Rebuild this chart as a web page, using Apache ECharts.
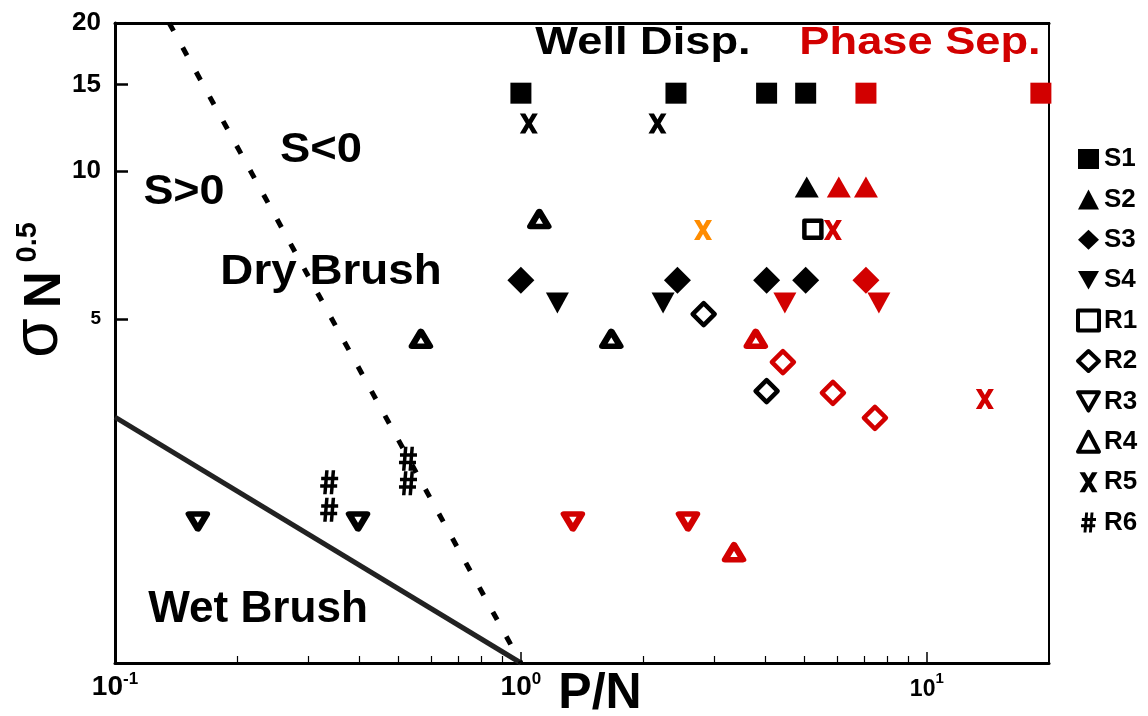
<!DOCTYPE html>
<html>
<head>
<meta charset="utf-8">
<title>Brush regimes: σN^0.5 vs P/N</title>
<script src="https://cdn.jsdelivr.net/npm/echarts@6/dist/echarts.min.js"></script>
<style>
  html, body { margin: 0; padding: 0; background: #ffffff; }
  #chart { width: 1148px; height: 716px; }
</style>
</head>
<body>
<div id="chart"></div>
<script>
// Grafting density (σN^0.5) against matrix/brush length ratio (P/N), log-log.
const FONT = "'Liberation Sans', Arial, Helvetica, sans-serif";
const BLACK = '#000000';
const RED = '#d20000';
const ORANGE = '#ff8c00';

// Well-dispersed samples: [P/N, σN^0.5]
const s1Dispersed = [[1.0, 14.4], [2.41, 14.4], [4.03, 14.4], [5.03, 14.4]];
const s2Dispersed = [[5.06, 9.28]];
const s3Dispersed = [[1.0, 6.0], [2.43, 6.0], [4.03, 6.0], [5.03, 6.0]];
const s4Dispersed = [[1.23, 5.39], [2.24, 5.39]];
const r1Dispersed = [[5.24, 7.62]];
const r2Dispersed = [[2.82, 5.12], [4.03, 3.57]];
const r3Dispersed = [[0.16, 1.94], [0.397, 1.94]];
const r4Dispersed = [[1.11, 7.99], [1.67, 4.56], [0.567, 4.56]];
const r5Dispersed = [[1.046, 12.5], [2.17, 12.5]];
const r6Dispersed = [[0.337, 2.33], [0.337, 2.05], [0.527, 2.60], [0.527, 2.32]];

// Phase-separated samples
const s1Separated = [[7.08, 14.4], [19.1, 14.4]];
const s2Separated = [[6.07, 9.28], [7.08, 9.28]];
const s3Separated = [[7.08, 6.0]];
const s4Separated = [[4.47, 5.39], [7.62, 5.39]];
const r2Separated = [[4.42, 4.09], [5.87, 3.54], [7.45, 3.15]];
const r3Separated = [[1.343, 1.94], [2.58, 1.94]];
const r4Separated = [[3.79, 4.56], [3.35, 1.68]];
const r5Separated = [[5.87, 7.59], [13.9, 3.44]];

// Borderline sample
const r5Intermediate = [[2.81, 7.59]];

// Regime boundaries (straight lines in log-log space)
const wetDryBoundary = [[0.1, 3.16], [1, 1]];
const entropyBoundary = [[0.136, 20], [1, 1]];

// Axis ticks
const xMinorTicks = [0.2, 0.3, 0.4, 0.5, 0.6, 0.7, 0.8, 0.9, 2, 3, 4, 5, 6, 7, 8, 9];
const yTicks = [5, 10, 15, 20];
const legendNames = ['S1', 'S2', 'S3', 'S4', 'R1', 'R2', 'R3', 'R4', 'R5', 'R6'];

// Marker shapes
const DOWN_TRI = 'path://M0,0L24,0L12,21Z';
const X_MARK = 'path://M0,0L5.5,0L9,6L12.5,0L18,0L12,10L18,20L12.5,20L9,14L5.5,20L0,20L6,10Z';
const HASH_MARK = 'path://M5,0L8.5,0L6.5,24L3,24Z M11.5,0L15,0L13,24L9.5,24Z M1,6.5L18,6.5L18,10L1,10Z M0,14L17,14L17,17.5L0,17.5Z';

const MARKERS = {
  S1: { symbol: 'rect', size: [21, 21] },
  S2: { symbol: 'triangle', size: [24, 21] },
  S3: { symbol: 'diamond', size: [27, 27] },
  S4: { symbol: DOWN_TRI, size: [23, 21] },
  R1: { symbol: 'rect', size: [17, 17], open: true, bw: 4.5 },
  R2: { symbol: 'diamond', size: [22, 22], open: true, bw: 4.5 },
  R3: { symbol: DOWN_TRI, size: [18, 15], open: true, bw: 6 },
  R4: { symbol: 'triangle', size: [18, 15], open: true, bw: 6 },
  R5: { symbol: X_MARK, size: [18, 20] },
  R6: { symbol: HASH_MARK, size: [18, 24] }
};

function scatter(name, data, color) {
  const m = MARKERS[name];
  return {
    type: 'scatter',
    name: name,
    data: data,
    symbol: m.symbol,
    symbolSize: m.size,
    itemStyle: m.open
      ? { color: '#ffffff', borderColor: color, borderWidth: m.bw, borderJoin: 'round', opacity: 1 }
      : { color: color, borderWidth: 0, opacity: 1 },
    emphasis: { disabled: true },
    z: 4
  };
}

const series = [
  {
    type: 'line', data: wetDryBoundary, symbol: 'none', silent: true, z: 2,
    lineStyle: { color: '#222222', width: 5 }
  },
  {
    type: 'line', data: entropyBoundary, symbol: 'none', silent: true, z: 2,
    lineStyle: { color: BLACK, width: 5, type: [9, 19], cap: 'butt' }
  },
  // well dispersed first so the legend icons take black
  scatter('S1', s1Dispersed, BLACK),
  scatter('S2', s2Dispersed, BLACK),
  scatter('S3', s3Dispersed, BLACK),
  scatter('S4', s4Dispersed, BLACK),
  scatter('R1', r1Dispersed, BLACK),
  scatter('R2', r2Dispersed, BLACK),
  scatter('R3', r3Dispersed, BLACK),
  scatter('R4', r4Dispersed, BLACK),
  scatter('R5', r5Dispersed, BLACK),
  scatter('R6', r6Dispersed, BLACK),
  scatter('S1', s1Separated, RED),
  scatter('S2', s2Separated, RED),
  scatter('S3', s3Separated, RED),
  scatter('S4', s4Separated, RED),
  scatter('R2', r2Separated, RED),
  scatter('R3', r3Separated, RED),
  scatter('R4', r4Separated, RED),
  scatter('R5', r5Separated, RED),
  scatter('R5', r5Intermediate, ORANGE)
];

// Only decades get a label: 10^-1, 10^0, 10^1
function xLabel(v) {
  const l = Math.log10(v);
  const p = Math.round(l);
  if (Math.abs(l - p) > 1e-6) return '';
  return p >= 1 ? '{m|10}{ms|' + p + '}' : '{b|10}{s|' + p + '}';
}

function yLabel(v) {
  const r = Math.round(v);
  return r === 5 ? '{s|5}' : '{b|' + r + '}';
}

function annotation(text, x, y, size, sx, color) {
  return {
    type: 'text', x: x, y: y, scaleX: sx, silent: true, z: 10,
    style: {
      text: text, x: 0, y: 0, fill: color || BLACK,
      font: 'bold ' + size + 'px ' + FONT,
      align: 'center', verticalAlign: 'middle'
    }
  };
}

const option = {
  backgroundColor: '#ffffff',
  animation: false,
  textStyle: { fontFamily: FONT },
  grid: {
    left: 115, right: 99, top: 23, bottom: 53,
    show: true, borderColor: BLACK, borderWidth: 2,
    containLabel: false, outerBoundsMode: 'none'
  },
  legend: {
    orient: 'vertical', left: 1071, top: 141,
    itemWidth: 21, itemHeight: 20, itemGap: 14.4,
    selectedMode: false,
    textStyle: { fontSize: 26, fontWeight: 'bold', color: BLACK, fontFamily: FONT },
    data: legendNames.map(n => MARKERS[n].open
      ? { name: n, itemStyle: { borderWidth: 4, borderJoin: 'round' } }
      : { name: n })
  },
  xAxis: [
    {
      type: 'log', logBase: 10, min: 0.1, max: 20, position: 'bottom',
      axisLine: { show: true, lineStyle: { color: BLACK, width: 3 } },
      axisTick: { show: true, inside: true, length: 11, lineStyle: { color: BLACK, width: 1.5 } },
      axisLabel: {
        margin: 8, formatter: xLabel, color: BLACK, showMaxLabel: false,
        rich: {
          b: { fontSize: 28, fontWeight: 'bold', fontFamily: FONT, color: BLACK, lineHeight: 30, verticalAlign: 'bottom' },
          s: { fontSize: 17, fontWeight: 'bold', fontFamily: FONT, color: BLACK, lineHeight: 17, verticalAlign: 'top' },
          m: { fontSize: 23, fontWeight: 'bold', fontFamily: FONT, color: BLACK, lineHeight: 30, verticalAlign: 'bottom' },
          ms: { fontSize: 15, fontWeight: 'bold', fontFamily: FONT, color: BLACK, lineHeight: 22, verticalAlign: 'top' }
        }
      },
      splitLine: { show: false }
    },
    {
      type: 'log', logBase: 10, min: 0.1, max: 20, position: 'bottom',
      axisLine: { show: false },
      axisTick: { show: true, inside: true, length: 7, customValues: xMinorTicks, lineStyle: { color: BLACK, width: 1.2 } },
      axisLabel: { show: false },
      splitLine: { show: false }
    },
    {
      type: 'log', logBase: 10, min: 0.1, max: 20, position: 'top',
      axisLine: { show: true, lineStyle: { color: BLACK, width: 3 } },
      axisTick: { show: false }, axisLabel: { show: false }, splitLine: { show: false }
    }
  ],
  yAxis: [
    {
      type: 'log', logBase: 10, min: 1, max: 20,
      axisLine: { show: true, lineStyle: { color: BLACK, width: 3 } },
      axisTick: { show: true, inside: true, length: 13, customValues: yTicks, lineStyle: { color: BLACK, width: 2.5 } },
      axisLabel: {
        margin: 14, customValues: yTicks, formatter: yLabel, color: BLACK,
        rich: {
          b: { fontSize: 26, fontWeight: 'bold', fontFamily: FONT, color: BLACK },
          s: { fontSize: 19, fontWeight: 'bold', fontFamily: FONT, color: BLACK }
        }
      },
      splitLine: { show: false }
    }
  ],
  series: series,
  graphic: [
    annotation('Well Disp.', 643, 44, 38, 1.19, BLACK),
    annotation('Phase Sep.', 920, 44, 38, 1.19, RED),
    annotation('S<0', 321, 150, 42, 1.08),
    annotation('S>0', 184, 192, 42, 1.07),
    annotation('Dry Brush', 331, 272, 42, 1.09),
    annotation('Wet Brush', 258, 610, 45, 0.98),
    annotation('P/N', 600, 694, 50, 1.0),
    {
      type: 'text', x: 42, y: 290, rotation: Math.PI / 2, silent: true, z: 10,
      style: {
        text: '{g|σ}{n|N}{s|0.5}', x: 0, y: 0, fill: BLACK,
        align: 'center', verticalAlign: 'middle',
        rich: {
          g: { fontSize: 64, fontFamily: FONT, fill: BLACK, lineHeight: 58, verticalAlign: 'bottom' },
          n: { fontSize: 51, fontWeight: 'bold', fontFamily: FONT, fill: BLACK, lineHeight: 50, verticalAlign: 'bottom', padding: [0, 9, 0, 10] },
          s: { fontSize: 29, fontWeight: 'bold', fontFamily: FONT, fill: BLACK, lineHeight: 28, verticalAlign: 'top' }
        }
      }
    }
  ]
};

const chart = echarts.init(document.getElementById('chart'));
chart.setOption(option);
</script>
</body>
</html>
